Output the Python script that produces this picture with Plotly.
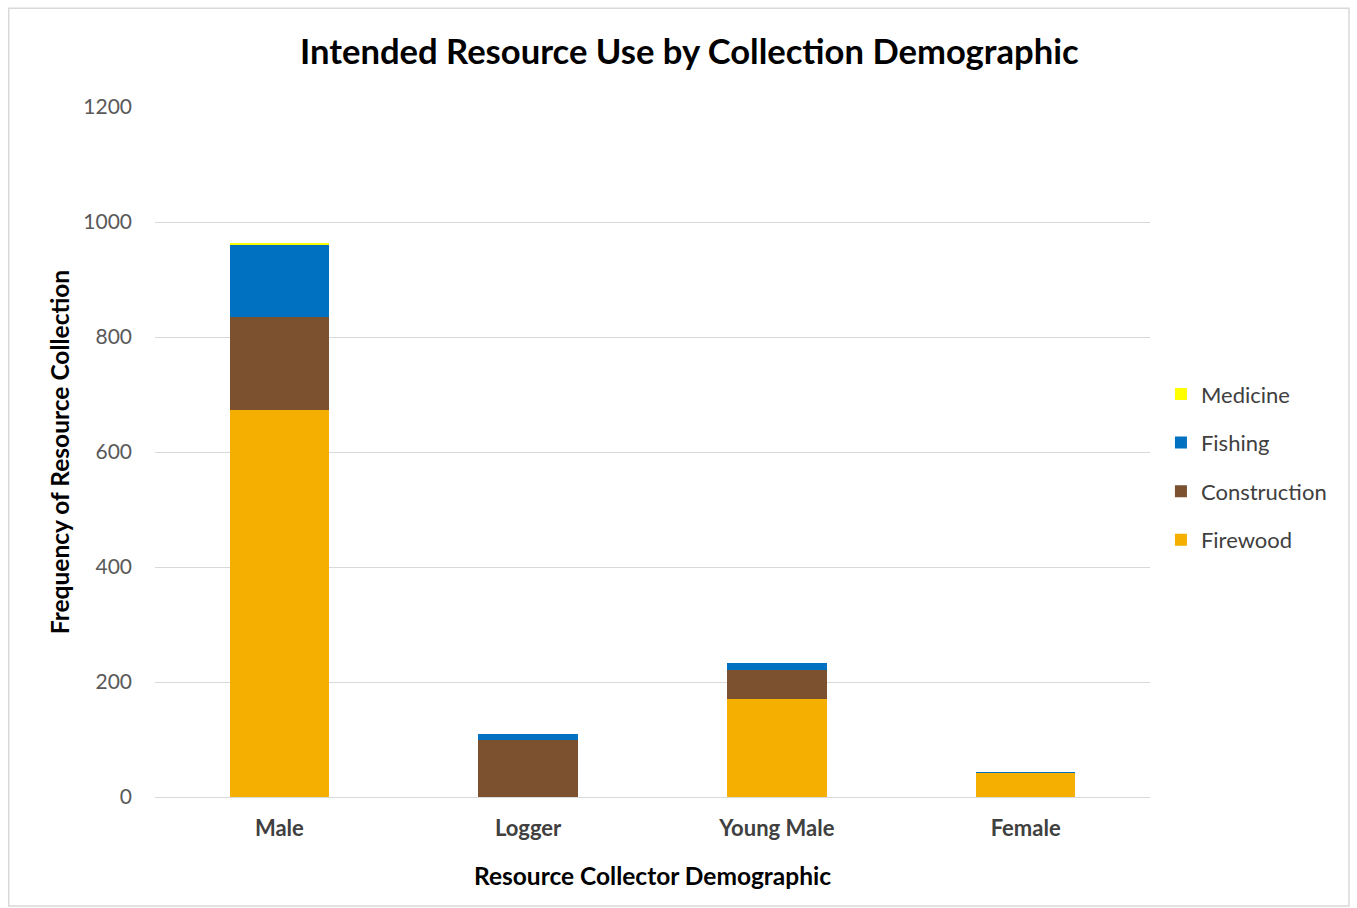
import plotly.graph_objects as go

categories = ["Male", "Logger", "Young Male", "Female"]
tick_labels = ["<b>Male</b>", "<b>Logger</b>", "<b>Young Male</b>", "<b>Female</b>"]
firewood = [673, 0, 170, 42]
construction = [162, 99, 51, 0]
fishing = [125, 11, 12, 1]
medicine = [3, 0, 0, 0]

series = [
    ("Firewood", firewood, "#F4AF00", 4),
    ("Construction", construction, "#7B5130", 3),
    ("Fishing", fishing, "#0070C0", 2),
    ("Medicine", medicine, "#FFFF00", 1),
]

fig = go.Figure()
for name, vals, col, rank in series:
    fig.add_trace(go.Bar(
        x=categories, y=vals, name=name, marker_color=col,
        marker_line_width=0, legendgroup=name, legendrank=rank,
    ))

FONT = "Lato, Calibri, Carlito, sans-serif"
fig.update_layout(
    barmode="stack",
    bargap=0.6,
    width=1357, height=908,
    paper_bgcolor="white", plot_bgcolor="white",
    margin=dict(l=155, r=207, t=107, b=111),
    font=dict(family=FONT, color="#595959", size=20),
    title=dict(text="<b>Intended Resource Use by Collection Demographic</b>",
               x=0.508, xanchor="center", y=0.943, yanchor="middle",
               font=dict(size=34.6, color="black", family=FONT)),
    xaxis=dict(title=dict(text="<b>Resource Collector Demographic</b>",
                          font=dict(size=24.5, color="black"), standoff=27),
               tickmode="array", tickvals=categories, ticktext=tick_labels,
               tickfont=dict(size=22, color="#404040"),
               showline=True, linecolor="#D9D9D9", linewidth=1,
               ticks="", ticklabelstandoff=12),
    yaxis=dict(title=dict(text="<b>Frequency of Resource Collection</b>",
                          font=dict(size=24.5, color="black"), standoff=6),
               range=[0, 1200], dtick=200, showgrid=True,
               gridcolor="#D9D9D9", gridwidth=1, zeroline=False,
               tickfont=dict(size=21, color="#595959"), ticks="",
               ticklabelstandoff=22),
    legend=dict(x=1.011, xanchor="left", y=0.478, yanchor="middle",
                traceorder="grouped", tracegroupgap=17,
                font=dict(size=22, color="#404040"), itemwidth=30),
    shapes=[dict(type="rect", xref="paper", yref="paper",
                 x0=-0.147, x1=1.2, y0=-0.158, y1=1.143,
                 line=dict(color="#D9D9D9", width=1.5))],
)

fig.write_html("out.html")
